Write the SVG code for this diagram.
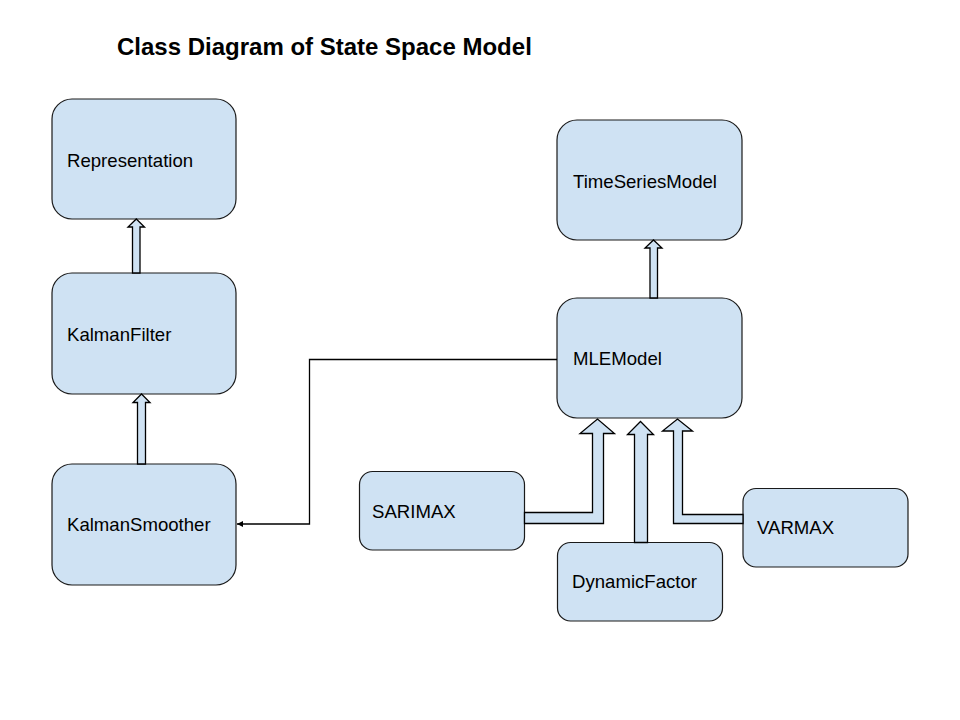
<svg xmlns="http://www.w3.org/2000/svg" width="960" height="720" viewBox="0 0 960 720">
<style>
.node{fill:#cfe2f3;stroke:#1a1a1a;stroke-width:1.2}
.lbl{font-family:"Liberation Sans",Arial,sans-serif;font-size:18.6px;fill:#000}
.title{font-family:"Liberation Sans",Arial,sans-serif;font-size:24px;font-weight:bold;fill:#000}
.blk{fill:#cfe2f3;stroke:#000;stroke-width:1.3;stroke-linejoin:miter}
.line{fill:none;stroke:#000;stroke-width:1.3}
</style>
<defs>
<marker id="ah" markerWidth="8" markerHeight="8" refX="6" refY="3" orient="auto" markerUnits="userSpaceOnUse">
<path d="M0,0 L6,3 L0,6 z" fill="#000"/>
</marker>
</defs>
<rect width="960" height="720" fill="#fff"/>
<text class="title" x="117" y="55">Class Diagram of State Space Model</text>

<g id="Representation"><rect class="node" x="52" y="99" width="184" height="120" rx="20" ry="20"/><text class="lbl" x="67" y="167">Representation</text></g>
<g id="KalmanFilter"><rect class="node" x="52" y="273" width="184" height="121" rx="20" ry="20"/><text class="lbl" x="67" y="341">KalmanFilter</text></g>
<g id="KalmanSmoother"><rect class="node" x="52" y="464" width="184" height="121" rx="20" ry="20"/><text class="lbl" x="67" y="531">KalmanSmoother</text></g>
<g id="TimeSeriesModel"><rect class="node" x="557" y="120" width="185" height="120" rx="20" ry="20"/><text class="lbl" x="573" y="188">TimeSeriesModel</text></g>
<g id="MLEModel"><rect class="node" x="557" y="298" width="185" height="120" rx="20" ry="20"/><text class="lbl" x="573" y="365">MLEModel</text></g>
<g id="SARIMAX"><rect class="node" x="359.5" y="471.5" width="165" height="78.5" rx="13" ry="13"/><text class="lbl" x="372" y="518">SARIMAX</text></g>
<g id="DynamicFactor"><rect class="node" x="557.5" y="542.5" width="165" height="78.5" rx="13" ry="13"/><text class="lbl" x="572" y="588">DynamicFactor</text></g>
<g id="VARMAX"><rect class="node" x="743" y="488.5" width="165" height="78.5" rx="13" ry="13"/><text class="lbl" x="757" y="534">VARMAX</text></g>

<g id="connectors">
<polygon class="blk" points="132.5,273 132.5,227 128,227 136.3,219 144.5,227 140,227 140,273"/>
<polygon class="blk" points="137.5,464 137.5,402.5 133,402.5 141.5,394 150,402.5 145.5,402.5 145.5,464"/>
<polygon class="blk" points="650,298 650,248 645,248 653.5,240 662,248 657.5,248 657.5,298"/>
<polygon class="blk" points="524.5,512.5 592.5,512.5 592.5,433.5 580,433.5 597.5,419 614.5,433.5 603.5,433.5 603.5,523.5 524.5,523.5"/>
<polygon class="blk" points="634.5,542.5 634.5,434.5 627.5,434.5 640.5,421.5 653.5,434.5 647.5,434.5 647.5,542.5"/>
<polygon class="blk" points="743,514.5 682.5,514.5 682.5,431 692.5,431 677.5,419 662.5,431 673.5,431 673.5,523.5 743,523.5"/>
<polyline class="line" points="557,359.5 309.5,359.5 309.5,524 237,524" marker-end="url(#ah)"/>
</g>
</svg>
